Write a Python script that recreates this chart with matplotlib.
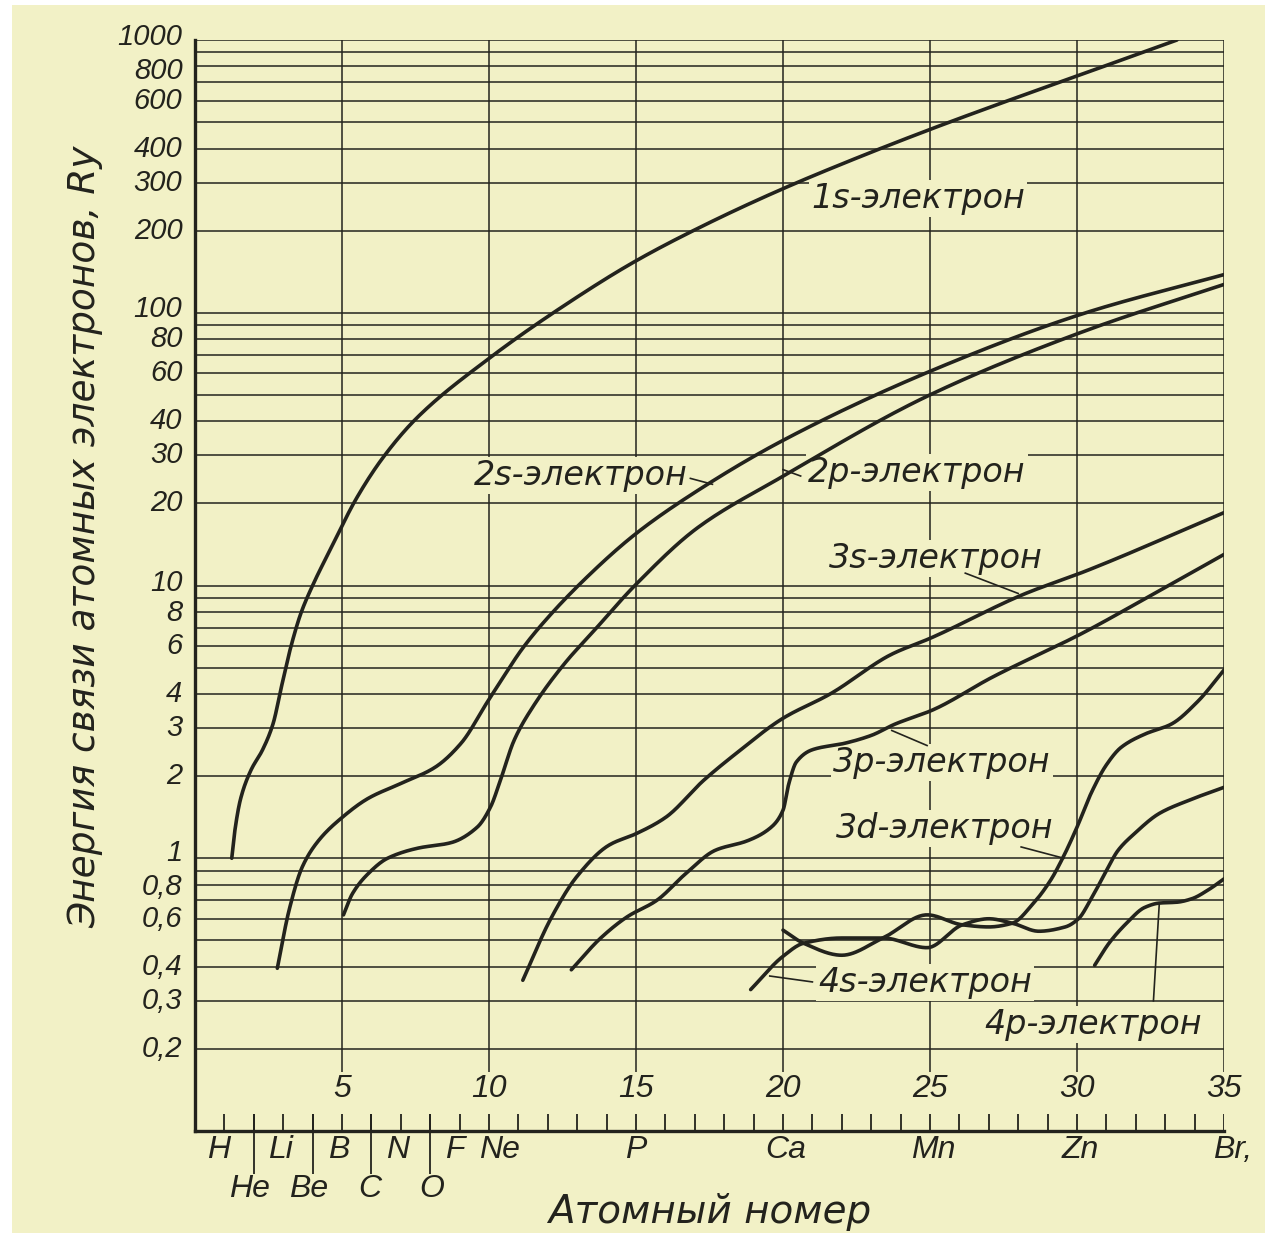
import numpy as np
import matplotlib
matplotlib.use('Agg')
import matplotlib.pyplot as plt
from matplotlib.patches import Rectangle

paper = '#f2f1c6'
ink = '#23231d'

# binding energy (Ry) read along each curve against atomic number Z
z_1s = [1.25, 1.35, 1.55, 1.9, 2.3, 2.65, 2.95, 3.25, 3.6, 4.0, 4.7, 5.45, 6.4, 7.55, 10.0, 12.6, 15.0, 17.5, 20.0, 22.5, 25.0, 27.5, 30.0, 33.4]
e_1s = [1.0, 1.25, 1.65, 2.1, 2.5, 3.1, 4.3, 5.9, 7.9, 10.0, 14.2, 20.5, 29.5, 41.2, 68, 107, 155, 214, 285, 369, 470, 591, 738, 1000]

z_2s = [2.8, 3.2, 3.65, 4.2, 5.0, 5.9, 7.0, 8.15, 9.05, 9.95, 10.45, 11.1, 11.75, 13.2, 15.0, 17.1, 19.9, 25.0, 30.3, 35.0]
e_2s = [0.395, 0.645, 0.93, 1.16, 1.41, 1.66, 1.88, 2.15, 2.64, 3.75, 4.55, 5.8, 7.1, 10.4, 15.5, 22.3, 33.6, 61, 100, 138]

z_2p = [5.05, 5.35, 5.9, 6.55, 7.6, 8.7, 9.6, 10.05, 10.4, 10.85, 11.5, 12.65, 13.45, 15.0, 17.1, 19.9, 25.0, 30.3, 35.0]
e_2p = [0.62, 0.74, 0.88, 1.0, 1.09, 1.14, 1.3, 1.54, 1.95, 2.7, 3.6, 5.3, 6.6, 10.1, 16.3, 24.8, 50, 86, 127]

z_3s = [11.15, 12.1, 13.0, 14.1, 15.0, 16.0, 17.3, 18.4, 20.0, 21.6, 23.7, 25.0, 28.2, 30.3, 35.0]
e_3s = [0.357, 0.6, 0.86, 1.12, 1.23, 1.41, 1.93, 2.42, 3.26, 4.0, 5.6, 6.4, 9.3, 11.3, 18.5]

z_3p = [12.8, 13.8, 14.7, 15.7, 16.7, 17.7, 18.8, 19.6, 20.0, 20.2, 20.45, 21.0, 22.1, 23.0, 23.8, 25.1, 27.1, 30.2, 32.2, 35.0]
e_3p = [0.39, 0.51, 0.61, 0.70, 0.88, 1.07, 1.16, 1.30, 1.50, 1.88, 2.25, 2.5, 2.64, 2.82, 3.1, 3.5, 4.6, 6.7, 8.8, 13.0]

z_3d = [20.0, 20.7, 22.0, 23.4, 24.9, 26.1, 27.0, 27.8, 28.5, 29.1, 29.55, 30.0, 30.5, 31.0, 31.5, 32.3, 33.2, 34.1, 35.0]
e_3d = [0.545, 0.488, 0.441, 0.51, 0.62, 0.57, 0.56, 0.578, 0.68, 0.83, 1.02, 1.3, 1.75, 2.2, 2.55, 2.85, 3.1, 3.75, 4.9]

z_4s = [18.9, 20.0, 20.7, 22.0, 23.4, 24.9, 26.1, 27.0, 27.8, 28.7, 29.6, 30.05, 30.45, 30.95, 31.4, 31.95, 32.8, 33.8, 35.0]
e_4s = [0.33, 0.437, 0.488, 0.51, 0.51, 0.47, 0.57, 0.60, 0.578, 0.54, 0.56, 0.6, 0.70, 0.88, 1.07, 1.23, 1.46, 1.63, 1.82]

z_4p = [30.6, 31.1, 31.7, 32.3, 32.8, 33.4, 33.9, 34.5, 35.0]
e_4p = [0.405, 0.49, 0.58, 0.66, 0.685, 0.69, 0.71, 0.77, 0.84]

curve_names = ['1s', '2s', '2p', '3s', '3p', '3d', '4s', '4p']
curve_z = [z_1s, z_2s, z_2p, z_3s, z_3p, z_3d, z_4s, z_4p]
curve_e = [e_1s, e_2s, e_2p, e_3s, e_3p, e_3d, e_4s, e_4p]

# caption anchors for each curve
label_z = [24.6, 16.75, 20.85, 25.2, 25.4, 25.5, 21.2, 30.55]
label_e = [262, 25.3, 25.9, 12.6, 2.25, 1.29, 0.351, 0.245]
label_ha = ['center', 'right', 'left', 'center', 'center', 'center', 'left', 'center']

# short leader strokes from caption to curve
leaders = [
    ([16.85, 17.6], [24.7, 23.5]),
    ([20.6, 20.0], [25.2, 26.6]),
    ([26.2, 28.0], [11.1, 9.35]),
    ([24.9, 23.7], [2.59, 2.94]),
    ([28.1, 29.55], [1.10, 1.0]),
    ([19.55, 21.0], [0.37, 0.352]),
    ([32.8, 32.6], [0.685, 0.30]),
]

ytick_vals = [1000, 800, 600, 400, 300, 200, 100, 80, 60, 40, 30, 20, 10, 8, 6, 4, 3, 2, 1, 0.8, 0.6, 0.4, 0.3, 0.2]
ytick_text = ['1000', '800', '600', '400', '300', '200', '100', '80', '60', '40', '30', '20',
              '10', '8', '6', '4', '3', '2', '1', '0,8', '0,6', '0,4', '0,3', '0,2']
xnum_vals = [5, 10, 15, 20, 25, 30, 35]

elem_row1 = ['H', 'Li', 'B', 'N', 'F', 'Ne', 'P', 'Ca', 'Mn', 'Zn', 'Br,']
elem_row1_z = [0.8, 2.9, 4.9, 6.9, 8.85, 10.35, 15, 20.1, 25.1, 30.1, 35.3]
elem_row2 = ['He', 'Be', 'C', 'O']
elem_row2_z = [1.85, 3.85, 5.95, 8.05]
separators_z = [2, 4, 6, 8]

grid_e = [k * 10.0 ** p for p in (-1, 0, 1, 2) for k in range(1, 10)][1:] + [1000]


def smooth(z, e, per=30):
    # monotone cubic (Fritsch-Carlson) through the read points, in log space
    x = np.asarray(z, float)
    y = np.log10(np.asarray(e, float))
    h = np.diff(x)
    d = np.diff(y) / h
    m = np.zeros_like(x)
    m[0], m[-1] = d[0], d[-1]
    for k in range(1, len(x) - 1):
        if d[k - 1] * d[k] <= 0:
            m[k] = 0.0
        else:
            w1 = 2 * h[k] + h[k - 1]
            w2 = h[k] + 2 * h[k - 1]
            m[k] = (w1 + w2) / (w1 / d[k - 1] + w2 / d[k])
    xs, ys = [], []
    for k in range(len(h)):
        t = np.linspace(0, 1, per)
        h00 = 2 * t**3 - 3 * t**2 + 1
        h10 = t**3 - 2 * t**2 + t
        h01 = -2 * t**3 + 3 * t**2
        h11 = t**3 - t**2
        xs.append(x[k] + t * h[k])
        ys.append(h00 * y[k] + h10 * h[k] * m[k] + h01 * y[k + 1] + h11 * h[k] * m[k + 1])
    return np.concatenate(xs), 10 ** np.concatenate(ys)


W, H = 1272, 1240
fig = plt.figure(figsize=(W / 100, H / 100), dpi=100)
fig.patch.set_facecolor('white')
fig.patches.append(Rectangle((12 / W, 1 - 1233 / H), (1265 - 12) / W, (1233 - 5) / H,
                             transform=fig.transFigure, facecolor=paper, edgecolor='none', zorder=-10))

ax = fig.add_axes([195 / W, 1 - 1131 / H, (1224 - 195) / W, (1131 - 40) / H])
ax.set_facecolor('none')
ax.set_yscale('log')
ax.set_xlim(0, 35)
ax.set_ylim(0.1, 1000)

numfont = dict(family='Liberation Sans', style='italic')
wordfont = dict(family='DejaVu Sans', style='italic')

# grid
ax.hlines(grid_e, 0, 35, color=ink, lw=1.1, zorder=1)
ax.vlines(xnum_vals, 0.165, 1000, color=ink, lw=1.1, zorder=1)

for s in ('top', 'right'):
    ax.spines[s].set_visible(False)
for s in ('left', 'bottom'):
    ax.spines[s].set_linewidth(2.4)
    ax.spines[s].set_color(ink)

ax.set_xticks([])
ax.set_yticks([])
ax.yaxis.set_minor_locator(matplotlib.ticker.NullLocator())

# value labels on the energy scale; the crowded pairs are nudged apart a little
nudge = {'1000': 2.5, '800': -3.5, '10': 2, '8': -1, '1': 3.5, '0,8': -1.5, '100': 3}
for v, t in zip(ytick_vals, ytick_text):
    ax.annotate(t, xy=(0, v), xycoords=('axes fraction', 'data'),
                xytext=(-9, nudge.get(t, 0)), textcoords='offset points',
                ha='right', va='center', fontsize=21, color=ink, **numfont)

# small ticks at each Z, long separators under the light elements
ax.vlines(np.arange(1, 36), 0.1, 0.1155, color=ink, lw=1.3, zorder=2)
ax.vlines(separators_z, 0.0696, 0.1155, color=ink, lw=1.3, zorder=2, clip_on=False)

for z in xnum_vals:
    ax.text(z, 0.142, str(z), ha='center', va='center', fontsize=23, color=ink, **numfont)
for name, z in zip(elem_row1, elem_row1_z):
    ax.text(z, 0.085, name, ha='center', va='center', fontsize=23, color=ink, **numfont)
for name, z in zip(elem_row2, elem_row2_z):
    ax.text(z, 0.0615, name, ha='center', va='center', fontsize=23, color=ink, **numfont)

# curves
for z, e in zip(curve_z, curve_e):
    xs, ys = smooth(z, e)
    ax.plot(xs, ys, color=ink, lw=2.6, solid_capstyle='round', zorder=4)

for name, lz, le, ha in zip(curve_names, label_z, label_e, label_ha):
    ax.text(lz, le, name + '-электрон', ha=ha, va='center', fontsize=24, color=ink,
            zorder=3, bbox=dict(facecolor=paper, edgecolor='none', pad=1.5), **wordfont)

for lx, ly in leaders:
    ax.plot(lx, ly, color=ink, lw=1.2, zorder=3.5)

fig.text(710 / W, 1 - 1212 / H, 'Атомный номер', ha='center', va='center',
         fontsize=28, color=ink, **wordfont)
fig.text(85 / W, 1 - 537 / H, 'Энергия связи атомных электронов, Ry', ha='center', va='center',
         rotation=90, fontsize=27, color=ink, **wordfont)

fig.savefig('out.png', dpi=100, facecolor=fig.get_facecolor())
